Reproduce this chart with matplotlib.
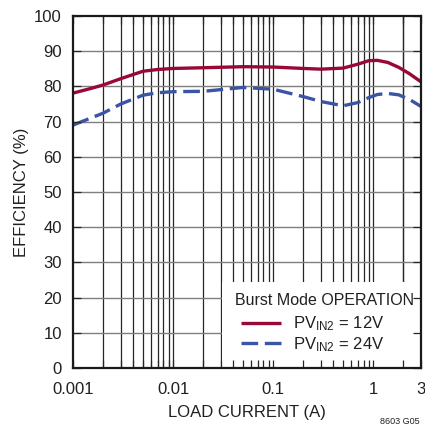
import matplotlib
matplotlib.use("Agg")
import matplotlib.pyplot as plt
from matplotlib.patches import Rectangle
import numpy as np

plt.rcParams['font.family'] = ['Liberation Sans Narrow', 'Liberation Sans', 'DejaVu Sans']
plt.rcParams['mathtext.fontset'] = 'custom'
plt.rcParams['mathtext.rm'] = 'Liberation Sans'
plt.rcParams['mathtext.it'] = 'Liberation Sans'

# Data
load_12 = [0.001, 0.0015, 0.002, 0.003, 0.005, 0.007, 0.01, 0.02, 0.05, 0.1, 0.2, 0.3, 0.5, 0.7, 0.9, 1.1, 1.4, 1.8, 2.3, 3.0]
eff_12 = [78.1, 79.4, 80.4, 82.2, 84.3, 84.8, 85.1, 85.3, 85.6, 85.5, 85.1, 84.9, 85.2, 86.3, 87.3, 87.4, 86.8, 85.4, 83.6, 81.3]
load_24 = [0.001, 0.0015, 0.002, 0.003, 0.005, 0.007, 0.01, 0.02, 0.05, 0.1, 0.2, 0.3, 0.5, 0.7, 0.9, 1.1, 1.4, 1.8, 2.3, 3.0]
eff_24 = [69.0, 71.0, 72.4, 75.0, 77.5, 78.2, 78.5, 78.6, 79.7, 79.2, 77.1, 75.7, 74.5, 75.4, 76.8, 77.7, 78.0, 77.6, 76.3, 74.3]
labels = [r'PV$_{\mathrm{IN2}}$ = 12V', r'PV$_{\mathrm{IN2}}$ = 24V']
legend_title = 'Burst Mode OPERATION'
xticks = [0.001, 0.01, 0.1, 1, 3]
xtick_labels = ['0.001', '0.01', '0.1', '1', '3']
yticks = list(range(0, 101, 10))

txt = '#231f20'
fig = plt.figure(figsize=(4.25, 4.36), dpi=100)
ax = fig.add_axes([73/425, 68/436, 348/425, 352/436])
ax.set_xscale('log')
ax.set_xlim(0.001, 3)
ax.set_ylim(0, 100)

# grid (manual so the legend can mask it while ticks stay on top)
vpos = [m * 10.0**e for e in range(-3, 1) for m in range(1, 10)] + [2.0, 3.0]
for v in vpos:
    if 0.001 < v < 3:
        ax.axvline(v, color='#262626', lw=0.9, zorder=1)
for h in yticks[1:-1]:
    ax.axhline(h, color='#7f7f7f', lw=1.0, zorder=1)

ax.plot(load_12, eff_12, color='#980a35', lw=2.4, label=labels[0], zorder=3, solid_capstyle='butt')
ax.plot(load_24, eff_24, color='#3a55a6', lw=2.4, dashes=(5, 2), label=labels[1], zorder=3)

ax.set_xticks(xticks)
ax.set_xticklabels(xtick_labels)
ax.set_yticks(yticks)
ax.xaxis.set_minor_locator(matplotlib.ticker.LogLocator(base=10, subs=np.arange(2, 10)))
ax.xaxis.set_minor_formatter(matplotlib.ticker.NullFormatter())
ax.tick_params(which='both', direction='in', top=True, right=True, length=5.5, width=0.9, color='#262626',
               labelsize=12, labelcolor=txt)
ax.tick_params(axis='y', pad=8)
ax.tick_params(axis='x', pad=10)
for s in ax.spines.values():
    s.set_linewidth(1.6)
    s.set_color('#1a1a1a')
    s.set_zorder(10)
ax.xaxis.set_zorder(8)
ax.yaxis.set_zorder(8)

# white legend panel
ax.add_patch(Rectangle((0.428, 0.0), 0.572, 0.244, transform=ax.transAxes,
                       facecolor='white', edgecolor='none', zorder=4))
ax.text(0.4655, 0.179, legend_title, transform=ax.transAxes, fontsize=11.5, color=txt,
        ha='left', va='baseline', zorder=6)
leg = ax.legend(loc='center left', bbox_to_anchor=(0.4828, 0.096), fontsize=12,
                frameon=False, borderaxespad=0, borderpad=0, handlelength=2.4,
                handletextpad=0.7, labelspacing=0.12)
for t in leg.get_texts():
    t.set_color(txt)
leg.set_zorder(6)

ax.set_xlabel('LOAD CURRENT (A)', fontsize=12, color=txt, labelpad=6)
ax.set_ylabel('EFFICIENCY (%)', fontsize=12, color=txt, labelpad=4)
fig.text(420/425, 1 - 421/436, '8603 G05', fontsize=6.5, color=txt, ha='right', va='center')

fig.savefig('out.png', dpi=100)
